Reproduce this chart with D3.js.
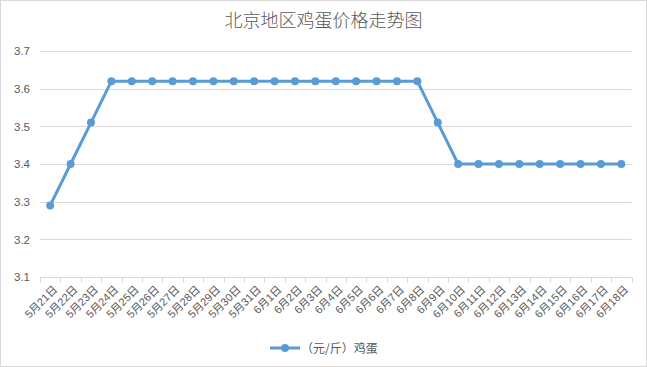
<!DOCTYPE html>
<html><head><meta charset="utf-8">
<script src="https://cdn.jsdelivr.net/npm/d3@7/dist/d3.min.js"></script>
<style>body{margin:0;background:#fff}svg{display:block}</style>
</head><body>
<svg id="c" width="647" height="367"></svg>
<script>
const title = "北京地区鸡蛋价格走势图";
const seriesName = "（元/斤）鸡蛋";
const categories = ["5月21日","5月22日","5月23日","5月24日","5月25日","5月26日","5月27日","5月28日","5月29日","5月30日","5月31日","6月1日","6月2日","6月3日","6月4日","6月5日","6月6日","6月7日","6月8日","6月9日","6月10日","6月11日","6月12日","6月13日","6月14日","6月15日","6月16日","6月17日","6月18日"];
const values = [3.29,3.40,3.51,3.62,3.62,3.62,3.62,3.62,3.62,3.62,3.62,3.62,3.62,3.62,3.62,3.62,3.62,3.62,3.62,3.51,3.40,3.40,3.40,3.40,3.40,3.40,3.40,3.40,3.40];
const yTicks = [3.1,3.2,3.3,3.4,3.5,3.6,3.7];

(function(){
const svg = d3.select("#c");
const W = 647, H = 367;
const mLeft = 40, mRight = 631.5, mTop = 51, mBottom = 277;
const textColor = "#595959", gridColor = "#d9d9d9", lineColor = "#5b9bd5";
const font = "'Liberation Sans', 'Noto Sans CJK SC', sans-serif";

svg.append("rect").attr("x",0.5).attr("y",0.5).attr("width",W-1).attr("height",H-1)
  .attr("fill","#fff").attr("stroke",gridColor);

const x = d3.scaleBand().domain(categories).range([mLeft,mRight]).paddingInner(0).paddingOuter(0);
const y = d3.scaleLinear().domain([3.1,3.7]).range([mBottom,mTop]);

svg.append("g").selectAll("line").data(yTicks.slice(1)).join("line")
  .attr("x1",mLeft).attr("x2",mRight).attr("y1",d=>Math.round(y(d))+0.5).attr("y2",d=>Math.round(y(d))+0.5)
  .attr("stroke",gridColor).attr("stroke-width",1);

const yAxis = d3.axisLeft(y).tickValues(yTicks).tickSize(0).tickPadding(10).tickFormat(d3.format(".1f"));
const gy = svg.append("g").attr("transform",`translate(${mLeft},0)`).call(yAxis);
gy.select(".domain").remove();
gy.selectAll("text").attr("fill",textColor).style("font-family",font).style("font-size","11.5px");

const gx = svg.append("g").attr("transform",`translate(0,${Math.round(mBottom)+0.5})`);
gx.append("line").attr("x1",mLeft).attr("x2",mRight).attr("stroke",gridColor);
const bounds = categories.map(c=>x(c)).concat([mRight]);
gx.selectAll("line.tk").data(bounds).join("line").attr("class","tk")
  .attr("x1",d=>Math.round(d)+0.5).attr("x2",d=>Math.round(d)+0.5).attr("y1",0).attr("y2",5).attr("stroke",gridColor);
gx.selectAll("text").data(categories).join("text")
  .attr("transform",d=>`translate(${x(d)+x.bandwidth()/2+5},${10}) rotate(-45)`)
  .attr("text-anchor","end").attr("dy","0.35em")
  .attr("fill",textColor).style("font-family",font).style("font-size","11px")
  .text(d=>d);

const cx = d=>x(d)+x.bandwidth()/2;
const line = d3.line().x((d,i)=>cx(categories[i])).y(d=>y(d));
svg.append("path").datum(values).attr("d",line).attr("fill","none")
  .attr("stroke",lineColor).attr("stroke-width",3).attr("stroke-linejoin","round").attr("stroke-linecap","round");
svg.append("g").selectAll("circle").data(values).join("circle")
  .attr("cx",(d,i)=>cx(categories[i])).attr("cy",d=>y(d)).attr("r",4).attr("fill",lineColor);

svg.append("text").attr("x",323.5).attr("y",27).attr("text-anchor","middle")
  .attr("fill",textColor).style("font-family","'Noto Sans CJK SC', sans-serif").style("font-size","18px").style("font-weight","300")
  .text(title);

const lg = svg.append("g");
lg.append("line").attr("x1",270).attr("x2",300).attr("y1",348).attr("y2",348).attr("stroke",lineColor).attr("stroke-width",3);
lg.append("circle").attr("cx",285).attr("cy",348).attr("r",4).attr("fill",lineColor);
lg.append("text").attr("x",301).attr("y",352.5).attr("fill",textColor)
  .style("font-family","'Noto Sans CJK SC', sans-serif").style("font-size","12px").text(seriesName);
})();
</script>
</body></html>
